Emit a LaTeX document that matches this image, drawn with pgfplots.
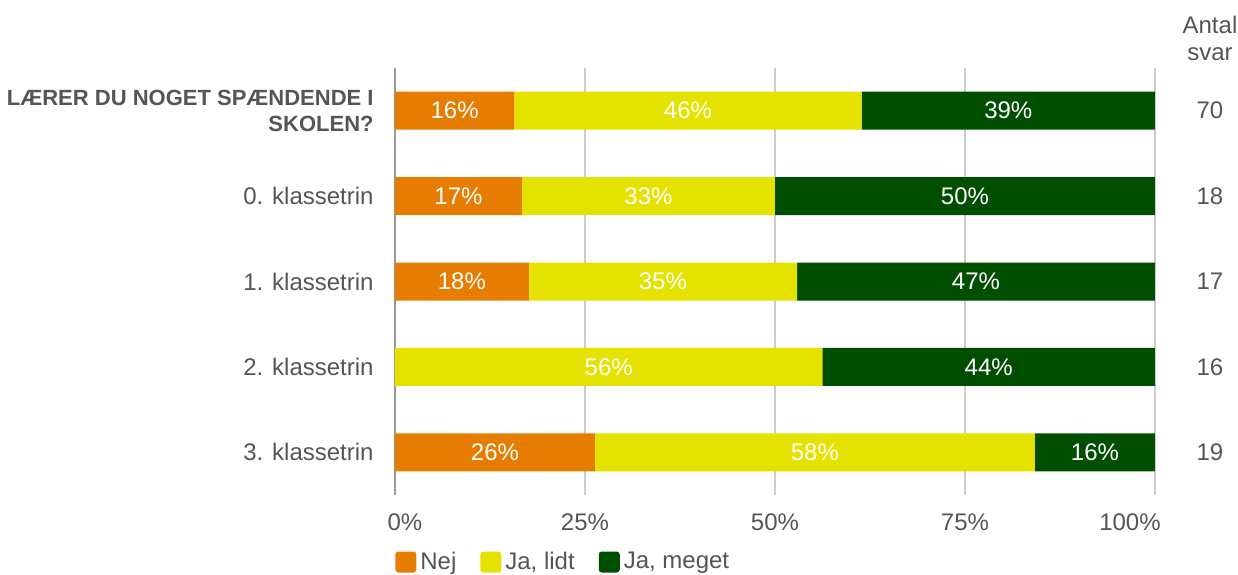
\documentclass[border=0pt]{standalone}
\usepackage{pgfplots}
\pgfplotsset{compat=1.18}
\usepackage{pgfplotstable}
\usepackage{fontspec}
\setmainfont{Liberation Sans}
\definecolor{cnej}{HTML}{E67C00}
\definecolor{clidt}{HTML}{E6E200}
\definecolor{cmeget}{HTML}{004F00}
\definecolor{txt}{HTML}{555555}
\definecolor{gridc}{HTML}{CCCCCC}
\newcommand\chartfont{\fontsize{12}{13.5}\selectfont}

\pgfplotstableread{
row nej lidt meget lnej llidt lmeget
0 15.7 45.7 38.6 16\% 46\% 39\%
1 16.7 33.3 50.0 17\% 33\% 50\%
2 17.6 35.3 47.1 18\% 35\% 47\%
3 0 56.25 43.75 {} 56\% 44\%
4 26.3 57.9 15.8 26\% 58\% 16\%
}\datatab

\begin{document}
\begin{tikzpicture}
\path[use as bounding box] (-197.5pt,-39.5pt) rectangle (421.5pt,247.5pt);
\begin{axis}[
  at={(0,0)}, anchor=south west,
  scale only axis, width=380pt, height=213.5pt,
  xbar stacked, bar width=19pt,
  xmin=0, xmax=100, ymin=-0.5, ymax=4.5, y dir=reverse,
  clip=false,
  axis line style={draw=none},
  tick style={draw=none},
  xmajorgrids, grid style={gridc, line width=0.6pt},
  extra x ticks={0}, extra x tick labels={},
  extra x tick style={grid style={color=black!40, line width=1.2pt}},
  ytick={0,1,2,3,4},
  yticklabels={\textbf{\fontsize{11}{13}\selectfont LÆRER DU NOGET SPÆNDENDE I}\\\textbf{\fontsize{11}{13}\selectfont SKOLEN?},
    0. klassetrin, 1. klassetrin, 2. klassetrin, 3. klassetrin},
  yticklabel style={font=\fontsize{12}{13}\selectfont, text=txt, align=right, inner sep=0pt, xshift=-10.5pt},
  xtick={0,25,50,75,100},
  xticklabels={\hspace*{10pt}0\%,25\%,50\%,75\%,100\%\hspace*{25pt}},
  xticklabel style={font=\chartfont, text=txt, anchor=base, yshift=-17.5pt},
  nodes near coords style={anchor=center, text=white, font=\chartfont},
  legend style={draw=none, fill=none, inner sep=0pt, at={(0,0)}, anchor=west, yshift=-33.5pt,
    font=\chartfont, text=txt, legend columns=-1,
    /tikz/every even column/.append style={column sep=10pt}},
  legend image code/.code={\fill[#1, draw=none, rounded corners=1.5pt] (0pt,-5.25pt) rectangle (10.5pt,5.25pt);},
]
\addplot[fill=cnej, draw=none, nodes near coords, point meta=explicit symbolic]
  table[x=nej, y=row, meta=lnej] {\datatab};
\addplot[fill=clidt, draw=none, nodes near coords, point meta=explicit symbolic]
  table[x=lidt, y=row, meta=llidt] {\datatab};
\addplot[fill=cmeget, draw=none, nodes near coords, point meta=explicit symbolic]
  table[x=meget, y=row, meta=lmeget] {\datatab};
\legend{Nej,{Ja, lidt},{Ja, meget}}
\node[font=\chartfont, text=txt, align=center] at (axis cs:100,-0.5) [xshift=27.5pt, yshift=14.75pt] {Antal\\svar};
\node[font=\chartfont, text=txt] at (axis cs:100,0) [xshift=27.5pt] {70};
\node[font=\chartfont, text=txt] at (axis cs:100,1) [xshift=27.5pt] {18};
\node[font=\chartfont, text=txt] at (axis cs:100,2) [xshift=27.5pt] {17};
\node[font=\chartfont, text=txt] at (axis cs:100,3) [xshift=27.5pt] {16};
\node[font=\chartfont, text=txt] at (axis cs:100,4) [xshift=27.5pt] {19};
\end{axis}
\end{tikzpicture}
\end{document}
